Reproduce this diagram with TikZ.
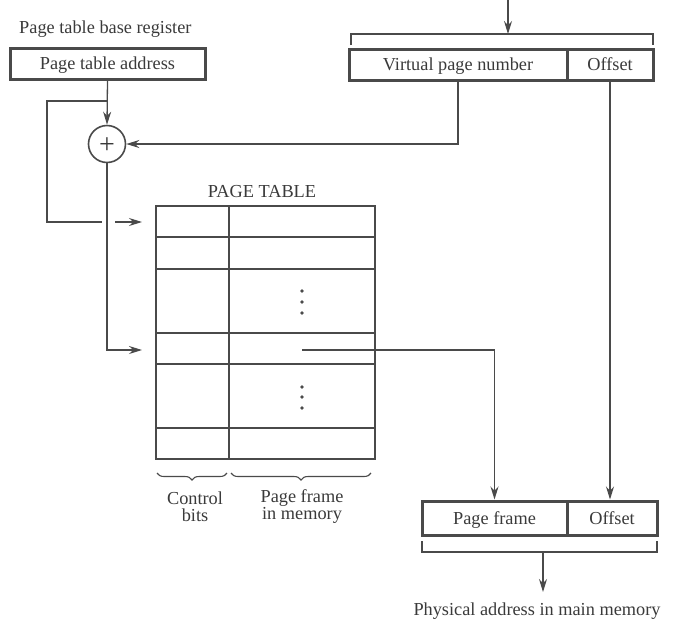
\documentclass[tikz,border=0pt]{standalone}
\usepackage{fontspec}
\setmainfont{Liberation Serif}
\usetikzlibrary{arrows.meta,decorations.pathreplacing,calc}
\definecolor{ink}{HTML}{4A4A4A}
\definecolor{txt}{HTML}{3A3A3A}
\tikzset{
  regbox/.style={draw=ink,line width=3pt,minimum height=31pt,inner sep=0pt,text height=12pt,text depth=0pt,text=txt,font=\fontsize{18.3}{20}\selectfont},
  conn/.style={draw=ink,line width=1.3pt},
  arr/.style={conn,-{Stealth[length=13pt,width=8pt]}},
  tbl/.style={draw=ink,line width=2.8pt},
  lbl/.style={text=txt,font=\fontsize{18.3}{17}\selectfont,inner sep=0pt},
  brc/.style={draw=ink,line width=1.1pt,decorate,decoration={brace,amplitude=7pt,mirror}}
}
\begin{document}
\begin{tikzpicture}[x=1pt,y=-1pt]
\useasboundingbox (0,0) rectangle (684,627);
% page table base register
\node[lbl,anchor=west] (ptbrl) at (19,29) {Page table base register};
\node[regbox,minimum width=195pt] (ptaddr) at (107.5,63.5) {Page table address};
% virtual address
\node[regbox,minimum width=218pt] (vpn) at (458,64.5) {Virtual page number};
\node[regbox,minimum width=86pt] (voff) at (610,64.5) {Offset};
\coordinate (vtop) at (508,0);
\coordinate (vbr) at (508,34);
\draw[conn] (351,45) -- (351,34) -- (653,34) -- (653,45);
\draw[arr] (vtop) -- (vbr);
% adder
\node[draw=ink,line width=1.6pt,circle,minimum size=37pt,inner sep=0pt,text=txt,font=\fontsize{28}{28}\selectfont] (plus) at (107,144) {};
\node[text=txt,inner sep=0pt,font=\fontsize{28}{28}\selectfont,text height=19pt,text depth=0pt] (plussign) at (plus.center) {+};
\coordinate (br) at (107,101);
\draw[arr] (ptaddr.south) -- (plus.north);
\draw[arr] (vpn.south) |- (plus.east);
% page table
\node[lbl] (pttitle) at (262,192) {PAGE TABLE};
\draw[tbl] (156,206) rectangle (375,459);
\draw[tbl] (229,206) -- (229,459);
\foreach \yy in {237,269,333,364,428} {\draw[tbl] (156,\yy) -- (375,\yy);}
\foreach \yy in {291,302,313,387,397,408} {\fill[ink] (302,\yy) circle (1.8pt);}
\coordinate (row1) at (142,222);
\coordinate (row4) at (142,350);
\coordinate (gapL) at (102,222);
\coordinate (gapR) at (115,222);
\draw[conn] (br) -- (47,101) -- (47,222) -- (gapL);
\draw[arr] (gapR) -- (row1);
\draw[arr] (plus.south) |- (row4);
% braces
\draw[brc] (157,473) -- (227,473);
\draw[brc] (231,473) -- (371,473);
\node[lbl,align=center] (cb) at (195,507) {Control\\bits};
\node[lbl,align=center] (pfm) at (302,507) {Page frame\\in memory};
% physical address
\node[regbox,minimum width=145pt,minimum height=34pt] (pf) at (494.5,518) {Page frame};
\node[regbox,minimum width=90pt,minimum height=34pt] (poff) at (612,518) {Offset};
\coordinate (pe) at (302,350);
\draw[arr] (pe) -| (pf.north);
\draw[arr] (voff.south) -- (voff.south |- poff.north);
\draw[conn] (422,541) -- (422,552) -- (657,552) -- (657,541);
\coordinate (pbr) at (543,552);
\coordinate (pout) at (543,592);
\draw[arr] (pbr) -- (pout);
\node[lbl] (phys) at (537,611) {Physical address in main memory};
\end{tikzpicture}
\end{document}
